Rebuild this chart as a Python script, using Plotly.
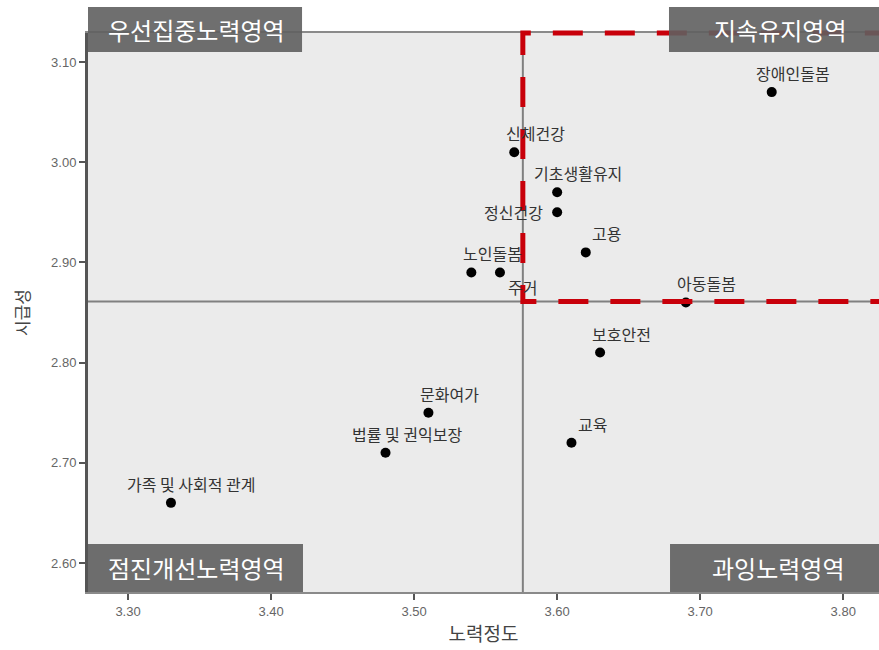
"""IPA 사분면 산점도: 노력정도 × 시급성."""

import plotly.graph_objects as go

# 영역별 노력정도(x) / 시급성(y)
LABELS = ["장애인돌봄", "신체건강", "기초생활유지", "정신건강", "고용", "노인돌봄", "주거",
          "아동돌봄", "보호안전", "문화여가", "교육", "법률 및 권익보장", "가족 및 사회적 관계"]
EFFORT = [3.75, 3.57, 3.60, 3.60, 3.62, 3.54, 3.56, 3.69, 3.63, 3.51, 3.61, 3.48, 3.33]
URGENCY = [3.07, 3.01, 2.97, 2.95, 2.91, 2.89, 2.89, 2.86, 2.81, 2.75, 2.72, 2.71, 2.66]

# 사분면 기준선(평균)
MEAN_EFFORT = 3.576
MEAN_URGENCY = 2.861

X_TICKS = [3.30, 3.40, 3.50, 3.60, 3.70, 3.80]
Y_TICKS = [2.60, 2.70, 2.80, 2.90, 3.00, 3.10]

QUADRANTS = ["우선집중노력영역", "지속유지영역", "점진개선노력영역", "과잉노력영역"]

X_RANGE = [3.272, 3.825]
Y_RANGE = [2.571, 3.129]

KR = "Noto Sans CJK KR"
BOX = "rgba(95,95,95,0.9)"
RED = "#c8000a"

# 라벨 오프셋(px) — 기본은 점의 오른쪽 위
label_shift = {"정신건강": (-44, 0), "주거": (23, -15)}

fig = go.Figure()
fig.add_trace(go.Scatter(x=EFFORT, y=URGENCY, mode="markers",
                         marker=dict(color="black", size=10), hoverinfo="text",
                         text=LABELS, showlegend=False))

for name, x, y in zip(LABELS, EFFORT, URGENCY):
    dx, dy = label_shift.get(name, (21, 19))
    fig.add_annotation(x=x, y=y, text=name, showarrow=False, xshift=dx, yshift=dy,
                       font=dict(family=KR, size=16, color="#333333"))

# 기준선
fig.add_vline(x=MEAN_EFFORT, line=dict(color="#808080", width=2))
fig.add_hline(y=MEAN_URGENCY, line=dict(color="#808080", width=2))


def px(v):
    return (v - X_RANGE[0]) / (X_RANGE[1] - X_RANGE[0])


def py(v):
    return (v - Y_RANGE[0]) / (Y_RANGE[1] - Y_RANGE[0])


# 지속유지영역 강조 (빨간 점선)
fx, fy = px(MEAN_EFFORT), py(MEAN_URGENCY)
fig.add_shape(type="path", xref="paper", yref="paper",
              path=f"M 1.02,1 L {fx},1 L {fx},{fy} L 1.02,{fy}",
              line=dict(color=RED, width=5, dash="30px,22px"), layer="above")

# 사분면 이름 상자
boxes = [
    (QUADRANTS[0], 0.0, 0.2706, 0.966, 1.0465, 0.137),
    (QUADRANTS[1], 0.7345, 1.0, 0.966, 1.0465, 0.875),
    (QUADRANTS[2], 0.0, 0.2718, 0.0, 0.0859, 0.137),
    (QUADRANTS[3], 0.7358, 1.0, 0.0, 0.0859, 0.872),
]
for name, x0, x1, y0, y1, tx in boxes:
    fig.add_shape(type="rect", xref="paper", yref="paper", x0=x0, x1=x1, y0=y0, y1=y1,
                  fillcolor=BOX, line_width=0, layer="above")
    fig.add_annotation(xref="paper", yref="paper", x=tx, y=(y0 + y1) / 2, text=name,
                       xanchor="center", yanchor="middle", showarrow=False,
                       font=dict(family=KR, size=24, color="white"))

fig.update_layout(
    width=879, height=650,
    margin=dict(l=88, r=0, t=33, b=58),
    paper_bgcolor="white", plot_bgcolor="#ebebeb",
    font=dict(family="Liberation Sans, Arial", color="#666666", size=13),
    xaxis=dict(range=X_RANGE, tickvals=X_TICKS, tickformat=".2f", showgrid=False,
               zeroline=False, showline=True, mirror=True, linecolor="#8a8a8a", linewidth=2,
               ticks="outside", ticklen=6, tickwidth=2, tickcolor="#555555",
               title=dict(text="노력정도", standoff=10,
                          font=dict(family=KR, size=19, color="#444444"))),
    yaxis=dict(range=Y_RANGE, tickvals=Y_TICKS, tickformat=".2f", showgrid=False,
               zeroline=False, showline=True, linecolor="#555555", linewidth=3,
               ticks="outside", ticklen=6, tickwidth=2, tickcolor="#555555",
               title=dict(text="시급성", standoff=18,
                          font=dict(family=KR, size=17, color="#444444"))),
)

fig.write_html("out.html", config={"displayModeBar": False},
               post_script="document.body.style.margin='0';")
